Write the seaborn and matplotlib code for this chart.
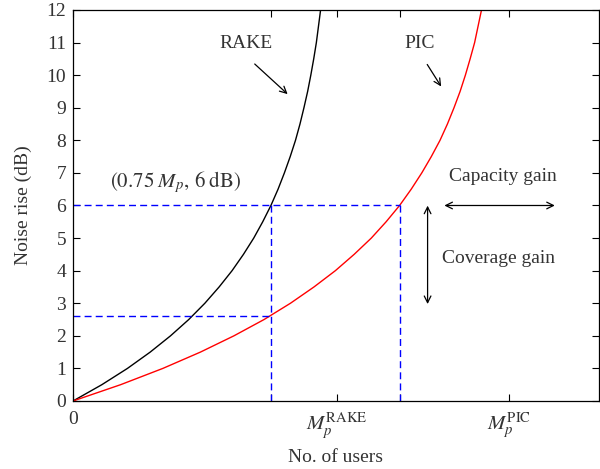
import matplotlib
matplotlib.use("Agg")
import matplotlib.pyplot as plt
import seaborn as sns
import pandas as pd

# Noise rise levels (dB) and user loads (x in units of M_P^RAKE)
noise_db = [0, 0.5, 1, 1.5, 2, 2.5, 3, 3.5, 4, 4.5, 5, 5.5, 6, 6.5, 7, 7.5, 8, 8.5, 9,
            9.5, 10, 10.5, 11, 11.5, 12]
rake_users = [0, 0.109, 0.206, 0.292, 0.369, 0.438, 0.499, 0.553, 0.602, 0.645, 0.684,
              0.718, 0.749, 0.776, 0.800, 0.822, 0.842, 0.859, 0.874, 0.888, 0.900,
              0.911, 0.921, 0.929, 0.937]
pic_users = [0, 0.180, 0.340, 0.482, 0.609, 0.723, 0.823, 0.912, 0.993, 1.064, 1.129,
             1.185, 1.236, 1.280, 1.320, 1.356, 1.389, 1.417, 1.442, 1.465, 1.485,
             1.503, 1.520, 1.533, 1.546]

mp_rake = 1.0
mp_pic = 1.65
x_rake_6db = 0.75
x_pic_6db = 1.236
pic_at_rake6 = 2.62
xtick_vals = [0, x_rake_6db, mp_rake, x_pic_6db, mp_pic]
xtick_labels = ["0", "", r"$M_p^{\mathrm{RAKE}}$", "", r"$M_p^{\mathrm{PIC}}$"]
ytick_vals = list(range(0, 13))

sns.set_theme(style="ticks")
plt.rcParams["font.family"] = ["Liberation Serif", "DejaVu Serif"]
plt.rcParams["mathtext.fontset"] = "stix"
txt = "#333333"

fig = plt.figure(figsize=(6, 4.69), dpi=100)
ax = fig.add_axes([0.1217, 0.145, 0.8763, 0.8337])

df_r = pd.DataFrame({"users": rake_users, "db": noise_db})
df_p = pd.DataFrame({"users": pic_users, "db": noise_db})
sns.lineplot(data=df_r, x="users", y="db", color="black", lw=1.0, ax=ax,
             estimator=None, sort=False)
sns.lineplot(data=df_p, x="users", y="db", color="#ff0000", lw=1.0, ax=ax,
             estimator=None, sort=False)

dash = dict(color="#0000ff", lw=1.0, ls=(0, (5, 3)))
ax.plot([0, x_pic_6db], [6, 6], **dash)
ax.plot([x_pic_6db, x_pic_6db], [0, 6], **dash)
ax.plot([0, x_rake_6db], [pic_at_rake6, pic_at_rake6], **dash)
ax.plot([x_rake_6db, x_rake_6db], [0, 6], **dash)

fs = 14
ax.set_xlim(0, 1.99)
ax.set_ylim(0, 12)
ax.set_xticks(xtick_vals)
ax.set_xticklabels(xtick_labels)
ax.set_yticks(ytick_vals)
ax.tick_params(direction="in", top=True, right=True, length=5, width=0.8,
               labelsize=fs, colors="black", labelcolor=txt, pad=5)
ax.tick_params(axis="x", pad=7)
for lab in ax.get_xticklabels()[1:]:
    lab.set_fontsize(15)
for s in ax.spines.values():
    s.set_linewidth(0.9)
    s.set_color("black")
ax.set_xlabel("No. of users", fontsize=fs, color=txt, labelpad=6)
ax.set_ylabel("Noise rise (dB)", fontsize=fs, color=txt, labelpad=10)

ax.text(0.654, 10.96, "RAKE", ha="center", va="center", fontsize=fs, color=txt)
ax.annotate("", xy=(0.820, 9.36), xytext=(0.680, 10.40),
            arrowprops=dict(arrowstyle="->", color="black", lw=0.9))
ax.text(1.312, 10.96, "PIC", ha="center", va="center", fontsize=fs, color=txt)
ax.annotate("", xy=(1.399, 9.58), xytext=(1.335, 10.40),
            arrowprops=dict(arrowstyle="->", color="black", lw=0.9))
ax.text(0.14, 6.72, r"$(0.75\;M_p,\, 6\;\mathrm{dB})$", ha="left", va="center",
        fontsize=15, color=txt)
ax.text(1.626, 6.88, "Capacity gain", ha="center", va="center", fontsize=fs, color=txt)
ax.annotate("", xy=(1.834, 6.0), xytext=(1.395, 6.0),
            arrowprops=dict(arrowstyle="<->", color="black", lw=0.9))
ax.text(1.61, 4.36, "Coverage gain", ha="center", va="center", fontsize=fs, color=txt)
ax.annotate("", xy=(1.342, 2.89), xytext=(1.342, 6.08),
            arrowprops=dict(arrowstyle="<->", color="black", lw=0.9))

fig.savefig("out.png", dpi=100)
